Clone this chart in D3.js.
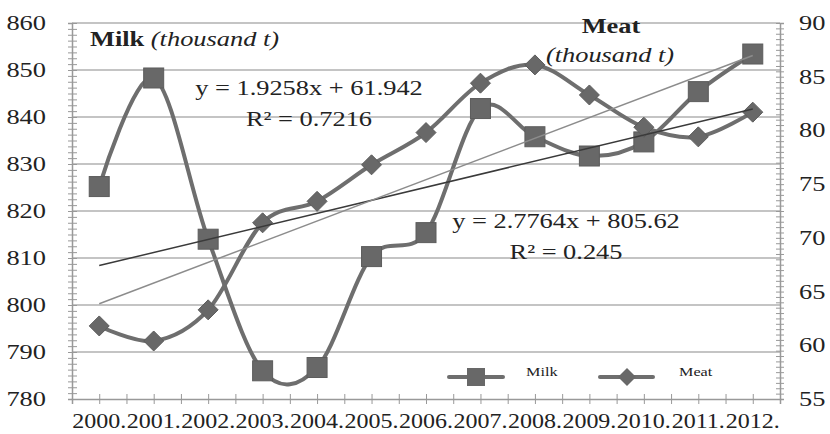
<!DOCTYPE html>
<html>
<head>
<meta charset="utf-8">
<script src="https://cdn.jsdelivr.net/npm/d3@7"></script>
<style>
	body { margin: 0; background: #fff; }
	text { font-family: "Liberation Serif", "Times New Roman", serif; fill: #222; }
</style>
</head>
<body>
<div id="chart"></div>
<script>
// data
const years = ["2000", "2001", "2002", "2003", "2004", "2005", "2006", "2007", "2008", "2009", "2010", "2011", "2012"];
const milk = [825.2, 848.3, 814.0, 786.0, 786.7, 810.3, 815.4, 841.8, 835.8, 831.7, 834.7, 845.4, 853.4];
const meat = [61.8, 60.4, 63.3, 71.4, 73.4, 76.8, 79.8, 84.4, 86.1, 83.3, 80.3, 79.4, 81.7];
const milkTicks = [780, 790, 800, 810, 820, 830, 840, 850, 860];
const meatTicks = [55, 60, 65, 70, 75, 80, 85, 90];
const milkTrend = { slope: 2.7764, intercept: 805.62, eq: "y = 2.7764x + 805.62", r2: "R² = 0.245" };
const meatTrend = { slope: 1.9258, intercept: 61.942, eq: "y = 1.9258x + 61.942", r2: "R² = 0.7216" };

function builder() {
	const w = 830;
	const h = 434;
	const padL = 72, padR = 780, padT = 23, padB = 399;
	const sx = 1.2; // text in the picture is stretched a bit sideways

	const svg = d3.select("#chart")
		.append("svg")
		.attr("width", w)
		.attr("height", h);

	const x = d3.scaleBand().domain(years).range([padL, padR]);
	const cx = (d) => x(d) + x.bandwidth() / 2;
	const xi = d3.scaleLinear().domain([0, years.length]).range([padL, padR]);
	const yL = d3.scaleLinear().domain([780, 860]).range([padB, padT]);
	const yR = d3.scaleLinear().domain([55, 90]).range([padB, padT]);

	// helper for stretched text
	function label(g, px, py, str, size, anchor) {
		return g.append("text")
			.attr("transform", `translate(${px},${py}) scale(${sx},1)`)
			.attr("text-anchor", anchor || "start")
			.style("font-size", size + "px")
			.text(str);
	}

	// gridlines
	svg.append("g")
		.selectAll("line")
		.data(milkTicks.slice(1))
		.enter()
		.append("line")
		.attr("x1", padL)
		.attr("x2", padR)
		.attr("y1", (d) => yL(d))
		.attr("y2", (d) => yL(d))
		.attr("stroke", "#b0b0b0")
		.attr("stroke-width", 1.5);

	// left axis: line + crossing ticks
	const gl = svg.append("g").attr("transform", `translate(${padL},0)`);
	gl.call(d3.axisLeft(yL).tickValues(d3.range(780, 860.01, 1.25)).tickSize(4).tickFormat(""));
	gl.selectAll(".tick line").attr("x1", 5).attr("stroke", "#999");
	gl.select(".domain").attr("stroke", "#999").attr("stroke-width", 1.5);
	milkTicks.forEach((d) => label(gl, -26, yL(d) + 7, d, 22, "end"));

	// right axis
	const gr = svg.append("g").attr("transform", `translate(${padR},0)`);
	gr.call(d3.axisRight(yR).tickValues(d3.range(55, 90.01, 0.5)).tickSize(4).tickFormat(""));
	gr.selectAll(".tick line").attr("x1", -4).attr("stroke", "#999");
	gr.select(".domain").attr("stroke", "#999").attr("stroke-width", 1.5);
	meatTicks.forEach((d) => label(gr, 19, yR(d) + 7, d, 22, "start"));

	// bottom axis: ticks at every half category
	const gb = svg.append("g").attr("transform", `translate(0,${padB})`);
	gb.call(d3.axisBottom(xi).tickValues(d3.range(0, years.length + 0.01, 0.5)).tickSize(5).tickFormat(""));
	gb.selectAll(".tick line").attr("y1", -5).attr("stroke", "#999");
	gb.select(".domain").attr("stroke", "#999").attr("stroke-width", 1.5);
	years.forEach((d) => label(svg, cx(d), 428, d + ".", 20, "middle"));

	// series lines
	const lineMilk = d3.line()
		.x((d, i) => cx(years[i]))
		.y((d) => yL(d))
		.curve(d3.curveCatmullRom.alpha(0));
	const lineMeat = d3.line()
		.x((d, i) => cx(years[i]))
		.y((d) => yR(d))
		.curve(d3.curveCatmullRom.alpha(0));

	svg.append("path")
		.attr("d", lineMilk(milk))
		.attr("fill", "none")
		.attr("stroke", "#6e6e6e")
		.attr("stroke-width", 4);
	svg.selectAll(".sq")
		.data(milk)
		.enter()
		.append("rect")
		.attr("x", (d, i) => cx(years[i]) - 10)
		.attr("y", (d) => yL(d) - 10)
		.attr("width", 20)
		.attr("height", 20)
		.attr("fill", "#686868")
		.attr("stroke", "#5c5c5c");

	svg.append("path")
		.attr("d", lineMeat(meat))
		.attr("fill", "none")
		.attr("stroke", "#6e6e6e")
		.attr("stroke-width", 4);
	const diamond = "M0,-10L10,0L0,10L-10,0Z";
	svg.selectAll(".dm")
		.data(meat)
		.enter()
		.append("path")
		.attr("d", diamond)
		.attr("transform", (d, i) => `translate(${cx(years[i])},${yR(d)})`)
		.attr("fill", "#686868")
		.attr("stroke", "#5c5c5c");

	// trend lines (from the fitted equations, x = 1..13)
	const n = years.length;
	svg.append("line")
		.attr("x1", cx(years[0]))
		.attr("x2", cx(years[n - 1]))
		.attr("y1", yL(milkTrend.intercept + milkTrend.slope * 1))
		.attr("y2", yL(milkTrend.intercept + milkTrend.slope * n))
		.attr("stroke", "#3a3a3a")
		.attr("stroke-width", 1.5);
	svg.append("line")
		.attr("x1", cx(years[0]))
		.attr("x2", cx(years[n - 1]))
		.attr("y1", yR(meatTrend.intercept + meatTrend.slope * 1))
		.attr("y2", yR(meatTrend.intercept + meatTrend.slope * n))
		.attr("stroke", "#8c8c8c")
		.attr("stroke-width", 1.5);

	// equations
	label(svg, 309, 95, meatTrend.eq, 22, "middle");
	label(svg, 309, 126, meatTrend.r2, 22, "middle");
	label(svg, 566, 228, milkTrend.eq, 22, "middle");
	label(svg, 566, 259, milkTrend.r2, 22, "middle");

	// titles
	const t1 = label(svg, 90, 46, "", 22, "start");
	t1.append("tspan").style("font-weight", "bold").text("Milk ");
	t1.append("tspan").style("font-style", "italic").text("(thousand t)");
	label(svg, 611, 33, "Meat", 22, "middle").style("font-weight", "bold");
	label(svg, 610, 62, "(thousand t)", 22, "middle").style("font-style", "italic");

	// legend
	const lg = svg.append("g");
	lg.append("line").attr("x1", 449).attr("x2", 503).attr("y1", 377).attr("y2", 377)
		.attr("stroke", "#6e6e6e").attr("stroke-width", 4).attr("stroke-linecap", "round");
	lg.append("rect").attr("x", 467).attr("y", 368).attr("width", 18).attr("height", 18)
		.attr("fill", "#686868");
	label(lg, 526, 376, "Milk", 13.5, "start");
	lg.append("line").attr("x1", 600).attr("x2", 653).attr("y1", 377).attr("y2", 377)
		.attr("stroke", "#6e6e6e").attr("stroke-width", 4).attr("stroke-linecap", "round");
	lg.append("path").attr("d", "M0,-9L9,0L0,9L-9,0Z").attr("transform", "translate(627,377)")
		.attr("fill", "#686868");
	label(lg, 679, 376, "Meat", 13.5, "start");
}

builder();
</script>
</body>
</html>
